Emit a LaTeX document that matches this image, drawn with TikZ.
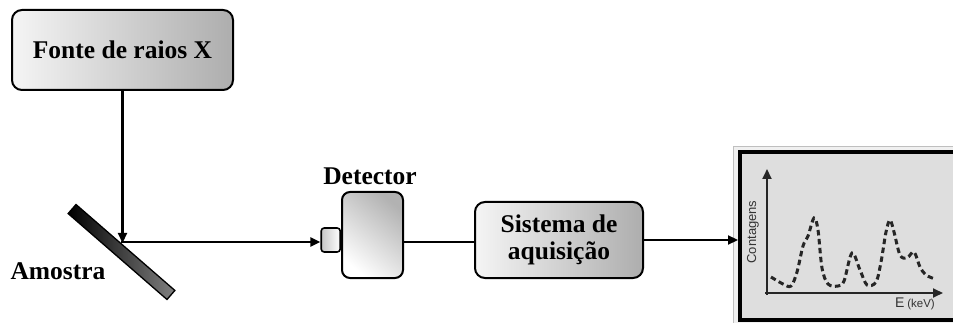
\documentclass[tikz,border=0pt]{standalone}
\usepackage{fontspec}
\setmainfont{Liberation Serif}
\newfontfamily\plotfont{Liberation Sans}
\usetikzlibrary{arrows.meta,calc}

\tikzset{
  lbl/.style={font=\fontsize{25.5}{27}\selectfont\bfseries, inner sep=0pt},
  blockbox/.style={draw=black, line width=2pt, rounded corners=10pt,
    left color=white!96!black, right color=black!32,
    lbl, align=center},
  conn/.style={line width=2.2pt, draw=black},
  arr/.style={conn, -{Triangle[length=10pt,width=9pt]}},
  axisarr/.style={line width=1.8pt, draw=black!85, -{Triangle[length=10pt,width=9pt]}},
  spectrum/.style={line width=3pt, draw=black!85, dash pattern=on 5.5pt off 3.5pt},
}

\begin{document}
\begin{tikzpicture}[x=1pt,y=-1pt]
\useasboundingbox (0,0) rectangle (953,323);

% X-ray source
\node[blockbox, minimum width=221pt, minimum height=80pt] (fonte) at (122.5,50) {Fonte de raios X};

% sample (tilted plate)
\node[draw=black, line width=1.3pt, minimum width=131pt, minimum height=12pt, inner sep=0pt,
      rotate=-41, left color=black, right color=black!50] (amostra) at (121.5,252) {};
\node[lbl, anchor=base] (amostralbl) at (58,279) {Amostra};

% detector
\node[draw=black, line width=2pt, rounded corners=8pt, minimum width=61pt, minimum height=86pt,
      top color=black!30, bottom color=white, shading angle=-40, inner sep=0pt] (dmain) at (372.5,235) {};
\node[draw=black, line width=1.6pt, rounded corners=3pt, minimum width=19pt, minimum height=24pt,
      left color=black!22, right color=white, inner sep=0pt, anchor=east] (dsmall) at (dmain.west |- 0,240) {};
\node[lbl, anchor=base] (detlbl) at (370,185) {Detector};

% acquisition system
\node[blockbox, minimum width=168pt, minimum height=76pt] (sistema) at (559,240) {Sistema de\\aquisição};

% spectrum panel
\node[draw=black!25, line width=0.8pt, fill=black!6, minimum width=240pt, minimum height=200pt,
      inner sep=0pt, anchor=north west] (frame) at (733,146) {};
\node[draw=black, line width=4pt, fill=black!13, minimum width=220pt, minimum height=168pt,
      inner sep=0pt] (panel) at (850,236) {};

% beam path
\coordinate (hit) at (122.5,243);
\coordinate (bend) at (121.4,242);
\draw[arr] (fonte.south) -- (hit);
\draw[arr] (bend) -- (bend -| dsmall.west);
\draw[conn] (dmain.east |- bend) -- (sistema.west |- bend);
\draw[arr] (sistema.east |- 0,240) -- (panel.west |- 0,240);

% spectrum axes
\coordinate (orig) at (767,293);
\draw[axisarr] (765,293) -- (943,293);
\draw[axisarr] (767,295) -- (767,169);
\node[font=\plotfont\fontsize{13}{13}\selectfont, text=black!80, rotate=90, inner sep=0pt] (ylab) at (753,232) {Contagens};
\node[font=\plotfont, text=black!80, inner sep=0pt] (xlab) at (915,304)
  {{\fontsize{14}{14}\selectfont E} {\fontsize{11.5}{11.5}\selectfont(keV)}};

% measured spectrum
\draw[spectrum] plot[smooth, tension=0.55] coordinates {
  (771,277) (783,284) (791,286) (797,272) (803,246) (808,236) (814,218) (818,230)
  (822,268) (828,284) (838,286) (844,281) (852,253) (860,270) (867,285) (876,282)
  (881,262) (886,232) (890,220) (894,232) (900,255) (907,258) (914,252) (920,267)
  (926,275) (935,279)};
\end{tikzpicture}
\end{document}
